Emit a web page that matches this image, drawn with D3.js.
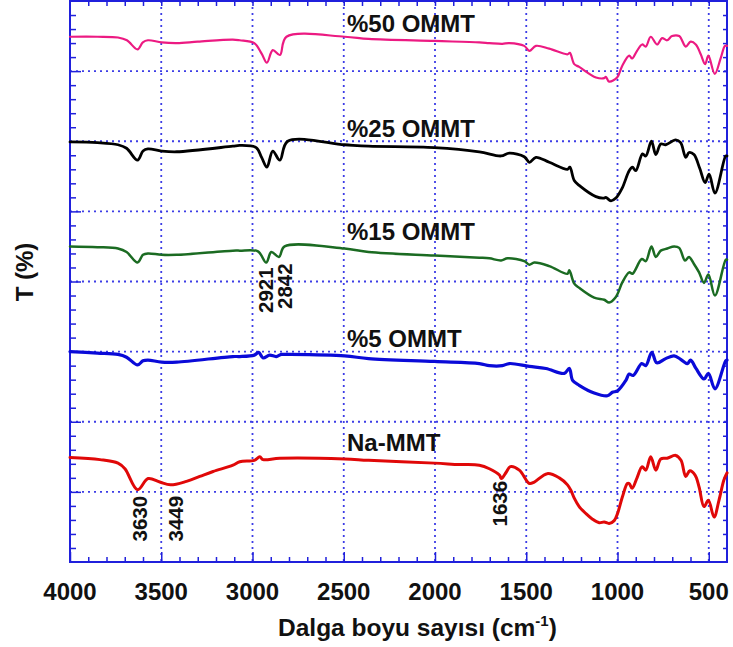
<!DOCTYPE html>
<html>
<head>
<meta charset="utf-8">
<script src="https://cdn.jsdelivr.net/npm/d3@7"></script>
<style>
  html, body { margin: 0; padding: 0; background: #fff; }
  svg { display: block; font-family: "Liberation Sans", Arial, sans-serif; }
</style>
</head>
<body>
<svg id="chart" width="733" height="647"></svg>
<script>
// FTIR spectra, transmittance (offset) vs wavenumber (cm-1)
const ommt50 = [[4000,74.9],[3850,74.9],[3737,74.8],[3688,74.4],[3630,73.1],[3601,74.1],[3573,74.4],[3498,74.1],[3415,74.0],[3300,74.2],[3108,74.5],[3070,74.4],[2990,74.0],[2950,72.5],[2921,71.2],[2889,73.0],[2850,72.3],[2814,74.9],[2495,74.9],[2364,74.6],[2003,74.3],[1757,74.1],[1702,74.0],[1631,73.9],[1593,74.0],[1511,73.6],[1483,72.9],[1447,73.6],[1374,73.2],[1275,72.4],[1261,72.6],[1237,71.0],[1210,70.6],[1118,69.1],[1073,69.0],[1064,69.2],[1046,68.5],[1002,69.1],[975,70.7],[936,72.2],[920,71.8],[893,72.9],[865,73.8],[845,73.5],[818,74.9],[783,73.8],[756,74.7],[728,74.4],[701,75.0],[662,75.0],[626,73.5],[599,74.2],[571,73.8],[544,72.4],[520,71.0],[502,72.2],[467,69.6],[434,71.9],[411,73.6],[400,73.6]];

const ommt25 = [[4000,59.9],[3850,59.8],[3737,59.5],[3690,59.0],[3630,57.3],[3600,58.6],[3573,58.9],[3498,58.6],[3415,58.5],[3108,59.3],[3070,59.4],[2980,59.1],[2950,57.7],[2921,56.3],[2889,58.6],[2850,57.3],[2807,60.0],[2495,59.5],[2364,59.3],[2003,59.1],[1757,58.5],[1638,57.9],[1593,58.3],[1511,57.8],[1483,57.0],[1447,57.7],[1374,57.0],[1274,56.0],[1261,56.3],[1237,54.4],[1210,53.7],[1118,52.1],[1073,51.9],[1064,52.0],[1036,51.5],[1009,51.9],[973,53.4],[936,55.8],[918,56.3],[900,55.8],[863,58.2],[845,57.9],[814,60.0],[790,58.1],[763,59.6],[736,59.5],[681,60.2],[654,59.8],[626,57.7],[608,58.4],[581,58.1],[549,56.1],[520,54.1],[498,55.3],[466,52.6],[407,57.9],[400,57.9]];

const ommt15 = [[4000,45.0],[3850,44.9],[3737,44.7],[3690,44.2],[3630,42.7],[3600,43.8],[3573,44.0],[3498,43.8],[3415,43.8],[3108,44.4],[3070,44.4],[2970,44.3],[2925,42.7],[2897,44.2],[2855,43.5],[2824,45.0],[2495,44.7],[2364,44.2],[2003,43.7],[1757,43.4],[1702,43.3],[1638,43.0],[1602,43.3],[1511,42.9],[1483,42.4],[1456,42.7],[1374,42.2],[1274,41.1],[1264,41.6],[1237,39.7],[1210,39.1],[1128,37.7],[1073,37.4],[1046,37.0],[1009,37.8],[973,39.9],[936,41.3],[918,41.1],[867,43.2],[845,42.9],[814,45.0],[790,43.5],[763,44.4],[727,44.7],[690,45.0],[662,44.8],[630,43.0],[608,43.5],[581,42.5],[553,41.3],[526,39.8],[502,41.0],[466,38.0],[407,43.1],[400,43.1]];

const ommt5 = [[4000,30.0],[3850,29.8],[3737,29.6],[3690,29.2],[3630,28.1],[3600,28.7],[3573,28.8],[3498,28.5],[3415,28.5],[3108,29.3],[3070,29.3],[2990,29.5],[2966,29.9],[2942,29.1],[2906,29.5],[2870,29.3],[2842,29.6],[2814,29.6],[2495,29.4],[2364,29.0],[2003,28.6],[1757,28.3],[1702,28.0],[1631,28.0],[1593,28.3],[1483,27.9],[1392,27.6],[1292,26.9],[1264,27.6],[1246,25.9],[1210,25.2],[1128,24.1],[1055,23.7],[1028,24.2],[1000,24.4],[954,25.9],[936,26.8],[914,26.6],[867,28.3],[845,28.0],[812,29.9],[785,28.4],[736,29.0],[690,29.4],[654,28.9],[617,28.3],[599,28.8],[570,27.6],[526,26.1],[502,26.9],[466,24.7],[407,28.7],[400,28.8]];

const naMMT = [[4000,14.9],[3836,14.6],[3737,14.1],[3699,13.3],[3630,10.3],[3572,11.9],[3508,11.4],[3449,11.0],[3362,11.5],[3289,12.2],[3216,12.9],[3107,13.8],[3070,14.3],[2990,14.5],[2960,15.0],[2942,14.6],[2850,14.8],[2495,14.7],[2364,14.5],[2003,14.1],[1866,13.9],[1757,13.8],[1702,13.3],[1647,12.4],[1636,11.9],[1610,12.8],[1587,13.6],[1538,13.1],[1483,11.2],[1456,11.4],[1385,12.6],[1319,12.0],[1274,11.0],[1255,10.2],[1237,9.1],[1210,7.9],[1173,6.9],[1137,6.1],[1100,5.6],[1073,5.7],[1046,5.5],[1018,5.9],[1000,6.9],[973,9.3],[946,11.2],[936,11.2],[920,10.5],[893,12.0],[865,13.6],[845,13.1],[818,15.0],[790,13.1],[763,14.7],[728,14.8],[681,15.2],[652,14.5],[626,12.2],[604,13.0],[575,12.4],[553,10.7],[526,7.9],[502,8.8],[471,6.4],[444,8.8],[417,11.7],[400,12.7]];

const seriesNames = ["%50 OMMT", "%25 OMMT", "%15 OMMT", "%5 OMMT", "Na-MMT"];
const seriesData = [ommt50, ommt25, ommt15, ommt5, naMMT];
const seriesColors = ["#ec1a82", "#000000", "#1b6b22", "#0a0ad8", "#e00808"];
const seriesWidths = [2.2, 2.8, 2.5, 3.2, 3];

const xTickValues = [4000, 3500, 3000, 2500, 2000, 1500, 1000, 500];
const peakWavenumbers = [3630, 3449, 2921, 2842, 1636];

// ---- layout ----
const svg = d3.select("#chart");
const plotLeft = 70, plotRight = 727, plotTop = 1, plotBottom = 562;
const axisBlue = "#2020dc";
const gridBlue = "#3d3de6";

const x = d3.scaleLinear().domain([4000, 400]).range([plotLeft, plotRight]);
const y = d3.scaleLinear().domain([0, 80]).range([plotBottom, plotTop]);

// dotted grid
const grid = svg.append("g");
grid.append("g").selectAll("line").data(xTickValues.filter(v => v < 4000))
  .join("line")
  .attr("x1", d => x(d)).attr("x2", d => x(d))
  .attr("y1", plotTop).attr("y2", plotBottom)
  .attr("stroke", gridBlue).attr("stroke-width", 1.8)
  .attr("stroke-dasharray", "2,4");
grid.append("g").selectAll("line").data(d3.range(10, 80, 10))
  .join("line")
  .attr("x1", plotLeft).attr("x2", plotRight)
  .attr("y1", d => y(d)).attr("y2", d => y(d))
  .attr("stroke", gridBlue).attr("stroke-width", 1.8)
  .attr("stroke-dasharray", "2,4");

// axes (ticks pointing inward on all four sides)
const minorX = d3.range(3900, 400, -100).filter(v => v % 500 !== 0);
const bottomAxis = d3.axisTop(x).tickValues(xTickValues).tickSize(10).tickFormat("");
const bottomMinor = d3.axisTop(x).tickValues(minorX).tickSize(5).tickFormat("");
const topAxis = d3.axisBottom(x).tickValues(d3.range(3900, 400, -100)).tickSize(5).tickFormat("");
const leftMajor = d3.axisRight(y).tickValues(d3.range(10, 80, 10)).tickSize(11).tickFormat("");
const leftMinor = d3.axisRight(y).tickValues(d3.range(2, 80, 2).filter(v => v % 10 !== 0)).tickSize(6).tickFormat("");
const rightAxis = d3.axisLeft(y).tickValues(d3.range(2, 80, 2)).tickSize(4).tickFormat("");

function styleAxis(g) {
  g.select(".domain").remove();
  g.selectAll(".tick line").attr("stroke", axisBlue).attr("stroke-width", 1.5);
}
svg.append("g").attr("transform", `translate(0,${plotBottom})`).call(bottomAxis).call(styleAxis);
svg.append("g").attr("transform", `translate(0,${plotBottom})`).call(bottomMinor).call(styleAxis);
svg.append("g").attr("transform", `translate(0,${plotTop})`).call(topAxis).call(styleAxis);
svg.append("g").attr("transform", `translate(${plotLeft},0)`).call(leftMajor).call(styleAxis);
svg.append("g").attr("transform", `translate(${plotLeft},0)`).call(leftMinor).call(styleAxis);
svg.append("g").attr("transform", `translate(${plotRight},0)`).call(rightAxis).call(styleAxis);

// frame
svg.append("rect")
  .attr("x", plotLeft).attr("y", plotTop)
  .attr("width", plotRight - plotLeft).attr("height", plotBottom - plotTop)
  .attr("fill", "none").attr("stroke", axisBlue).attr("stroke-width", 2);

// spectra
const line = d3.line()
  .x(d => x(d[0])).y(d => y(d[1]))
  .curve(d3.curveCatmullRom.alpha(0.5));

svg.append("g").selectAll("path")
  .data(seriesData)
  .join("path")
  .attr("d", line)
  .attr("fill", "none")
  .attr("stroke", (d, i) => seriesColors[i])
  .attr("stroke-width", (d, i) => seriesWidths[i])
  .attr("stroke-linejoin", "round")
  .attr("stroke-linecap", "round");

// series names
const nameBaselines = [32, 137, 240, 347, 451];
svg.append("g").selectAll("text")
  .data(seriesNames)
  .join("text")
  .attr("x", 347)
  .attr("y", (d, i) => nameBaselines[i])
  .attr("font-size", 24).attr("font-weight", "bold").attr("fill", "#111")
  .text(d => d);

// peak annotations (rotated, reading upward)
const peakOffsets = { 3630: [9, 541.5], 3449: [12.5, 541.5], 2921: [6, 313], 2842: [11, 309], 1636: [6, 526.5] };
svg.append("g").selectAll("text")
  .data(peakWavenumbers)
  .join("text")
  .attr("transform", d => `translate(${x(d) + peakOffsets[d][0]},${peakOffsets[d][1]}) rotate(-90)`)
  .attr("font-size", 20.5).attr("font-weight", "bold").attr("fill", "#111")
  .text(d => d);

// x tick labels
svg.append("g").selectAll("text")
  .data(xTickValues)
  .join("text")
  .attr("x", d => x(d)).attr("y", 600)
  .attr("text-anchor", "middle")
  .attr("font-size", 24).attr("font-weight", "bold").attr("fill", "#111")
  .text(d => d);

// x axis title with superscript
const xt = svg.append("text")
  .attr("x", 278).attr("y", 636)
  .attr("font-size", 24.5).attr("font-weight", "bold").attr("fill", "#111");
xt.append("tspan").text("Dalga boyu sayısı (cm");
xt.append("tspan").attr("font-size", 15).attr("dy", -10).text("-1");
xt.append("tspan").attr("dy", 10).text(")");

// y axis title
svg.append("text")
  .attr("transform", "translate(33,272) rotate(-90)")
  .attr("text-anchor", "middle")
  .attr("font-size", 24).attr("font-weight", "bold").attr("fill", "#111")
  .text("T (%)");
</script>
</body>
</html>
